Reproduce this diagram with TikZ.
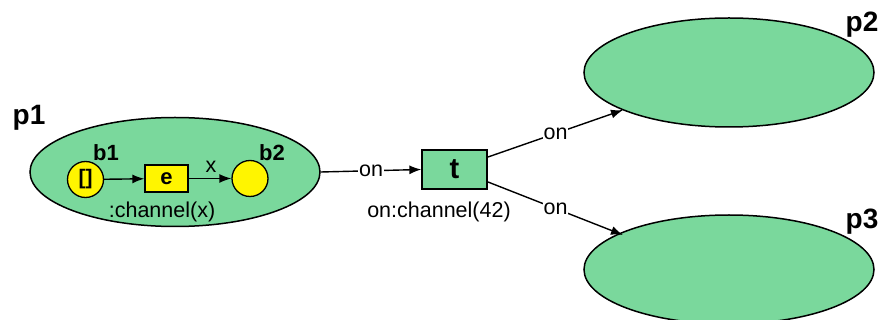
\documentclass[tikz,border=0pt]{standalone}
\usepackage{fontspec}
\setmainfont{Liberation Sans}
\usetikzlibrary{arrows.meta,shapes.geometric}
\definecolor{placegreen}{HTML}{7AD89C}
\definecolor{boxyellow}{HTML}{FFF500}
\tikzset{
  place/.style={ellipse, draw=black, line width=1.5pt, fill=placegreen,
    minimum width=290pt, minimum height=109pt, inner sep=0pt},
  token/.style={circle, draw=black, line width=1.3pt, fill=boxyellow,
    minimum size=36pt, inner sep=0pt, font=\fontsize{21}{24}\selectfont\bfseries},
  ebox/.style={rectangle, draw=black, line width=1.3pt, fill=boxyellow,
    minimum width=43pt, minimum height=27pt, inner sep=0pt, font=\fontsize{22}{24}\selectfont\bfseries},
  tbox/.style={rectangle, draw=black, line width=1.3pt, fill=placegreen,
    minimum width=65pt, minimum height=39pt, inner sep=0pt, font=\fontsize{29}{32}\selectfont\bfseries},
  big/.style={font=\fontsize{28}{30}\selectfont\bfseries, inner sep=0pt},
  mid/.style={font=\fontsize{22}{24}\selectfont\bfseries, inner sep=0pt},
  lbl/.style={font=\fontsize{21.5}{24}\selectfont, inner sep=0pt},
  conn/.style={draw=black, line width=1.4pt, -{Latex[length=12pt,width=9pt]}},
  onlbl/.style={font=\fontsize{21.5}{24}\selectfont, fill=white, inner sep=1pt},
}
\begin{document}
\begin{tikzpicture}[x=1pt,y=-1pt]
  \useasboundingbox (0,0) rectangle (879,320);
  % places
  \node[place] (p1) at (175,172) {};
  \node[place] (p2) at (729,72.5) {};
  \node[place] (p3) at (729,269.5) {};
  \node[big] (p1l) at (29,118) {p1};
  \node[big] (p2l) at (862,25) {p2};
  \node[big] (p3l) at (862,222) {p3};
  % inner structure of p1
  \node[token] (b1) at (85.5,179.5) {[]};
  \node[ebox] (e) at (166.5,178.5) {e};
  \node[token] (b2) at (250,178.5) {};
  \node[mid] (b1l) at (106,153) {b1};
  \node[mid] (b2l) at (272,153) {b2};
  \node[lbl] (xl) at (211,167) {x};
  \node[lbl] (chx) at (162,212) {:channel(x)};
  \draw[conn] (b1) -- (e);
  \draw[conn] (e) -- (b2);
  % transition
  \node[tbox] (t) at (454.5,169.5) {t};
  \node[lbl] (ch42) at (439,212) {on:channel(42)};
  \draw[conn] (p1.east) -- node[onlbl] {on} (t.west);
  \coordinate (tne) at (488,157);
  \coordinate (tse) at (488,182);
  \coordinate (p2in) at (623,110);
  \coordinate (p3in) at (623,235);
  \draw[conn] (tne) -- node[onlbl, pos=0.5] {on} (p2in);
  \draw[conn] (tse) -- node[onlbl, pos=0.5] {on} (p3in);
\end{tikzpicture}
\end{document}
